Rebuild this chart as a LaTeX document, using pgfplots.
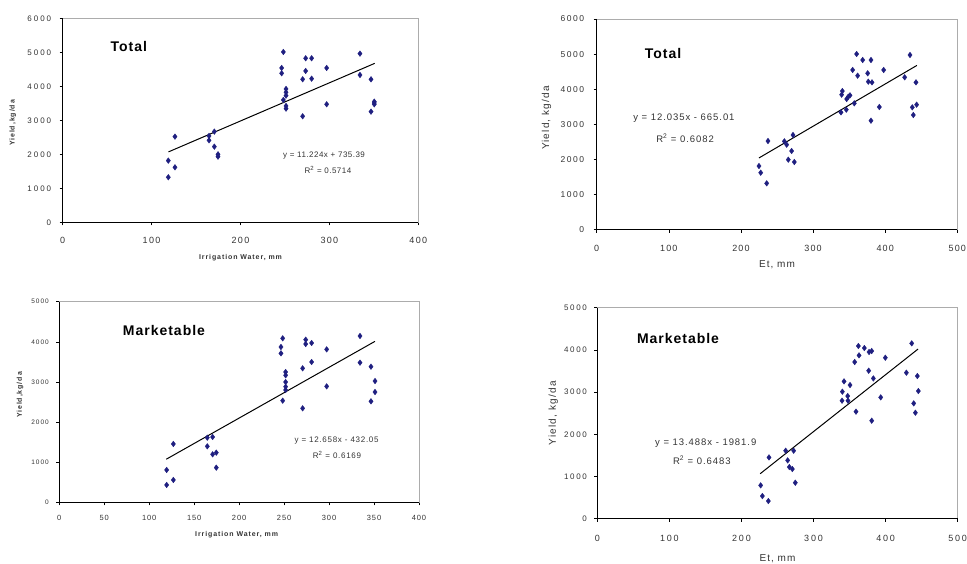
\documentclass[border=0pt]{standalone}
\usepackage{fontspec}
\setmainfont{Liberation Sans}
\usepackage{pgfplots}
\pgfplotsset{compat=1.18}
\definecolor{navy}{HTML}{1F1F80}
\definecolor{txt}{HTML}{333333}
\newcommand{\fs}[2]{\fontsize{#1}{#1}\selectfont\addfontfeature{LetterSpace=#2}}

\pgfplotsset{
  excel/.style={
    scale only axis, clip=false,
    axis line style={draw=gray!65, line width=0.8pt},
    tick align=outside, tick pos=left,
    major tick length=3pt,
    every tick/.style={black, line width=0.6pt},
    /pgf/number format/assume math mode=true,
    /pgf/number format/1000 sep={},
    ticklabel style={color=txt},
    xmin=0, ymin=0,
  },
  pts/.style={only marks, mark=diamond*, mark size=2.8pt, color=navy},
  trend/.style={black, line width=1pt, no marks},
}
\newcommand{\frameLB}{\draw[black, line width=0.9pt] (rel axis cs:0,1) -- (rel axis cs:0,0) -- (rel axis cs:1,0);}

\begin{document}
\begin{tikzpicture}
\useasboundingbox (0pt,0pt) rectangle (967pt,563pt);

% top left: total yield vs irrigation water
\begin{axis}[excel, at={(62.7pt,340.7pt)}, anchor=south west,
  width=355.6pt, height=204pt,
  xmax=400, ymax=6000, xtick={0,100,...,400}, ytick={0,1000,...,6000},
  yticklabel style={font=\fs{8}{25}, xshift=-5pt},
  xticklabel style={font=\fs{9}{15}, yshift=-8pt},
  xlabel={Irrigation Water, mm}, ylabel={Yield,kg/da},
  xlabel style={font=\bfseries\fs{7}{13}, color=txt, at={(axis description cs:0.5,-0.175)}, anchor=center},
  ylabel style={font=\bfseries\fs{7}{13}, color=txt, at={(axis description cs:-0.14,0.487)}, anchor=center},
]
\frameLB
\addplot[pts] coordinates {
(118.8,1324)(118.8,1814)(126.3,2520)(126.3,1618)(164.6,2539)(164.6,2412)
(170.6,2667)(170.6,2225)(174.7,2000)(174.7,1931)(246.3,4539)(246.3,4382)
(248.2,5010)(248.2,3598)(251.2,3921)(251.2,3824)(251.2,3725)(251.2,3422)
(251.2,3343)(269.9,4206)(269.9,3118)(273.3,4824)(273.3,4451)(280.0,4824)
(280.0,4225)(296.9,4539)(296.9,3471)(334.4,4961)(334.4,4333)(346.8,3255)
(346.8,4206)(350.5,3549)(350.5,3471)(350.5,3510)};
\addplot[trend] coordinates {(119,2071.05)(351,4675.0)};
\node[font=\bfseries\fs{14}{7}] at (axis description cs:0.186,0.864) {Total};
\node[font=\fs{8}{6}, color=txt] at (axis description cs:0.735,0.326) {y = 11.224x + 735.39};
\node[font=\fs{8}{6}, color=txt] at (axis description cs:0.746,0.256) {R\textsuperscript{2} = 0.5714};
\end{axis}

% top right: total yield vs Et
\begin{axis}[excel, at={(596.7pt,333.3pt)}, anchor=south west,
  width=360.6pt, height=210.7pt,
  xmax=500, ymax=6000, xtick={0,100,...,500}, ytick={0,1000,...,6000},
  yticklabel style={font=\fs{8.5}{18}, xshift=-6pt},
  xticklabel style={font=\fs{9}{12}, yshift=-9pt},
  xlabel={Et, mm}, ylabel={Yield, kg/da},
  xlabel style={font=\fs{10}{10}, color=txt, at={(axis description cs:0.5,-0.1675)}, anchor=center},
  ylabel style={font=\fs{10}{12}, color=txt, at={(axis description cs:-0.139,0.53)}, anchor=center},
]
\frameLB
\addplot[pts] coordinates {
(225.0,1813)(227.4,1623)(235.7,1320)(237.5,2525)(260.2,2516)(263.4,2421)
(265.7,1994)(270.3,2241)(272.2,2696)(274.0,1927)(338.7,3342)(339.6,3845)
(340.6,3949)(346.1,3418)(346.6,3722)(348.9,3788)(351.2,3826)(354.9,4548)
(357.2,3598)(360.4,5003)(361.8,4386)(368.8,4832)(375.7,4453)(376.6,4215)
(380.3,4832)(380.3,3104)(381.7,4196)(391.9,3494)(397.9,4548)(427.0,4339)
(434.4,4975)(437.6,3484)(439.0,3266)(442.7,4196)(443.6,3560)};
\addplot[trend] coordinates {(225,2042.9)(444,4678.5)};
\node[font=\bfseries\fs{14}{7}] at (axis description cs:0.184,0.834) {Total};
\node[font=\fs{9.5}{10}, color=txt] at (axis description cs:0.242,0.530) {y = 12.035x - 665.01};
\node[font=\fs{9.5}{10}, color=txt] at (axis description cs:0.245,0.435) {R\textsuperscript{2} = 0.6082};
\end{axis}

% bottom left: marketable yield vs irrigation water
\begin{axis}[excel, at={(59.3pt,60.7pt)}, anchor=south west,
  width=359.7pt, height=200.6pt,
  xmax=400, ymax=5000, xtick={0,50,...,400}, ytick={0,1000,...,5000},
  yticklabel style={font=\fs{6.5}{15}, xshift=-4pt},
  xticklabel style={font=\fs{7.5}{12}, yshift=-6pt},
  xlabel={Irrigation Water, mm}, ylabel={Yield,kg/da},
  xlabel style={font=\bfseries\fs{7}{13}, color=txt, at={(axis description cs:0.493,-0.163)}, anchor=center},
  ylabel style={font=\bfseries\fs{7}{13}, color=txt, at={(axis description cs:-0.109,0.535)}, anchor=center},
]
\frameLB
\addplot[pts] coordinates {
(119.4,432)(119.4,806)(126.8,1454)(126.8,557)(164.6,1611)(164.6,1395)
(170.5,1628)(170.5,1196)(174.6,1238)(174.6,864)(246.5,3871)(246.5,3713)
(248.4,4087)(248.4,2533)(251.7,3248)(251.7,3165)(251.7,2998)(251.7,2882)
(251.7,2799)(270.6,3339)(270.6,2342)(274.0,4053)(274.0,3945)(280.6,3970)
(280.6,3497)(297.3,3812)(297.3,2890)(334.4,4145)(334.4,3480)(346.6,3380)
(346.6,2517)(351.1,3023)(351.1,2749)};
\addplot[trend] coordinates {(119,1074.3)(351,4010.9)};
\node[font=\bfseries\fs{14}{7}] at (axis description cs:0.291,0.854) {Marketable};
\node[font=\fs{8}{9}, color=txt] at (axis description cs:0.771,0.307) {y = 12.658x - 432.05};
\node[font=\fs{8}{9}, color=txt] at (axis description cs:0.772,0.236) {R\textsuperscript{2} = 0.6169};
\end{axis}

% bottom right: marketable yield vs Et
\begin{axis}[excel, at={(597.3pt,44.3pt)}, anchor=south west,
  width=360.4pt, height=211pt,
  xmax=500, ymax=5000, xtick={0,100,...,500}, ytick={0,1000,...,5000},
  yticklabel style={font=\fs{8}{20}, xshift=-4pt},
  xticklabel style={font=\fs{9}{20}, yshift=-10pt},
  xlabel={Et, mm}, ylabel={Yield, kg/da},
  xlabel style={font=\fs{10}{10}, color=txt, at={(axis description cs:0.5,-0.188)}, anchor=center},
  ylabel style={font=\fs{10}{12}, color=txt, at={(axis description cs:-0.122,0.50)}, anchor=center},
]
\frameLB
\addplot[pts] coordinates {
(226.6,790)(229.0,537)(237.3,419)(238.2,1453)(261.3,1611)(264.1,1382)
(266.4,1224)(270.6,1177)(272.4,1611)(274.7,853)(340.0,3010)(339.5,2796)
(342.3,3254)(347.4,2907)(347.8,2796)(350.6,3167)(357.1,3713)(358.9,2536)
(362.2,4092)(363.1,3871)(370.5,4044)(377.0,3950)(376.5,3507)(380.7,3973)
(380.7,2322)(383.0,3325)(393.2,2875)(399.6,3815)(428.8,3460)(436.2,4155)
(439.0,2733)(441.3,2512)(444.0,3381)(445.4,3025)};
\addplot[trend] coordinates {(226,1066.4)(445,4020.3)};
\node[font=\bfseries\fs{14}{7}] at (axis description cs:0.224,0.855) {Marketable};
\node[font=\fs{9.5}{10}, color=txt] at (axis description cs:0.301,0.360) {y = 13.488x - 1981.9};
\node[font=\fs{9.5}{10}, color=txt] at (axis description cs:0.290,0.278) {R\textsuperscript{2} = 0.6483};
\end{axis}
\end{tikzpicture}
\end{document}
